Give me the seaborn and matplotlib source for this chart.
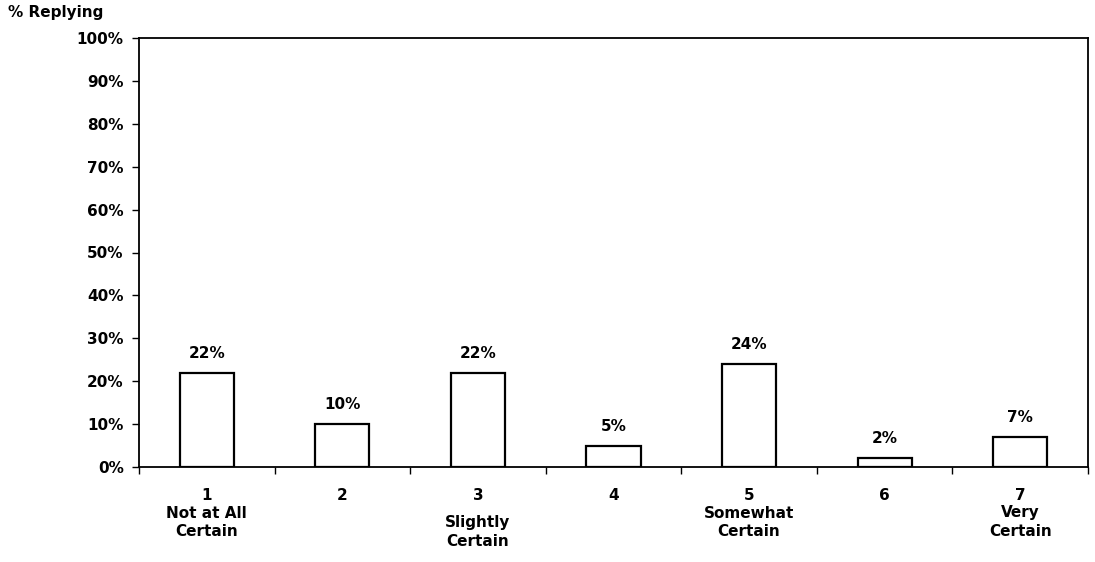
import matplotlib
matplotlib.use("Agg")
import matplotlib.pyplot as plt
import matplotlib.transforms as mtransforms
import seaborn as sns
import pandas as pd

categories = ["1", "2", "3", "4", "5", "6", "7"]
values = [22, 10, 22, 5, 24, 2, 7]
value_labels = ["22%", "10%", "22%", "5%", "24%", "2%", "7%"]
descriptions = ["Not at All\nCertain", "", "Slightly\nCertain", "", "Somewhat\nCertain", "", "Very\nCertain"]
y_ticks = [0, 10, 20, 30, 40, 50, 60, 70, 80, 90, 100]

sns.set_style("white")
plt.rcParams['font.family'] = ['DejaVu Sans']
plt.rcParams['font.weight'] = 'bold'
for key in ['text.color', 'axes.labelcolor', 'xtick.color', 'ytick.color', 'axes.edgecolor']:
    plt.rcParams[key] = 'black'
FS = 11

df = pd.DataFrame({"cat": categories, "val": values})

fig = plt.figure(figsize=(10.95, 5.62), dpi=100)
ax = fig.add_axes([139 / 1095, 1 - 467 / 562, (1088 - 139) / 1095, (467 - 38) / 562])

sns.barplot(data=df, x="cat", y="val", ax=ax, color="white", edgecolor="black",
            linewidth=1.6, width=0.4, saturation=1)

ax.set_xlim(-0.5, 6.5)
ax.set_ylim(0, 100)
ax.set_yticks(y_ticks)
ax.set_yticklabels([f"{t}%" for t in y_ticks], fontsize=FS, fontweight="bold")
ax.set_xlabel("")
ax.set_ylabel("")

# x ticks sit between categories, labels placed separately
ax.set_xticks([i - 0.5 for i in range(8)])
ax.set_xticklabels([])
ax.tick_params(axis="x", direction="out", length=5, width=1, bottom=True)
ax.tick_params(axis="y", direction="out", length=5, width=1, left=True, pad=6)

for s in ax.spines.values():
    s.set_visible(True)
    s.set_color("black")
    s.set_linewidth(1.3)

trans = mtransforms.blended_transform_factory(ax.transData, fig.transFigure)
for i, c in enumerate(categories):
    ax.text(i, 1 - 495 / 562, c, transform=trans, ha="center", va="center",
            fontsize=FS, fontweight="bold")
    d = descriptions[i]
    if d:
        y0 = 523 if c == "3" else 513
        for j, line in enumerate(d.split("\n")):
            ax.text(i, 1 - (y0 + 19 * j) / 562, line, transform=trans, ha="center",
                    va="center", fontsize=FS, fontweight="bold")

for i, (v, lab) in enumerate(zip(values, value_labels)):
    ax.annotate(lab, (i, v), xytext=(0, 14), textcoords="offset points",
                ha="center", va="center", fontsize=FS, fontweight="bold")

fig.text(8 / 1095, 1 - 13 / 562, "% Replying", ha="left", va="center",
         fontsize=FS, fontweight="bold")

fig.savefig("out.png", dpi=100)
